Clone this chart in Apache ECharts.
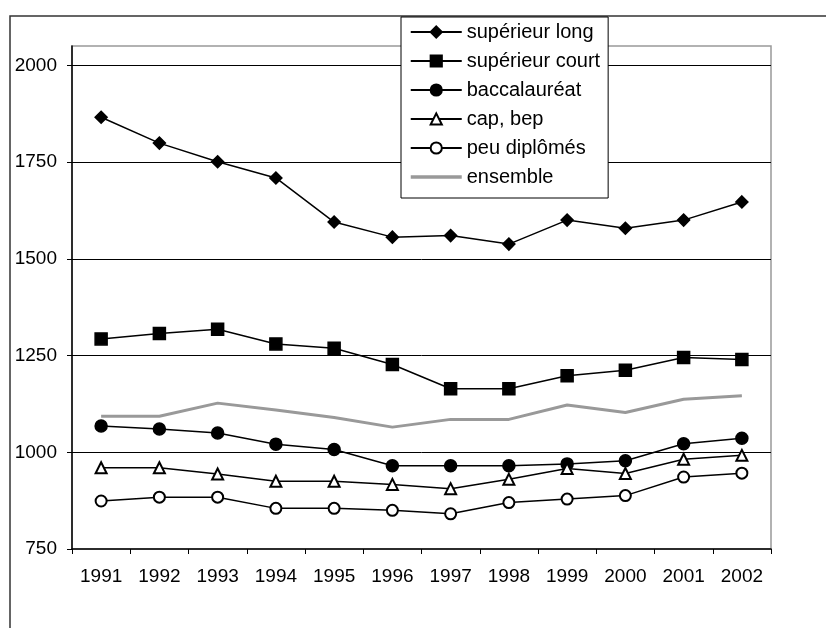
<!DOCTYPE html>
<html>
<head>
<meta charset="utf-8">
<script src="https://cdn.jsdelivr.net/npm/echarts@6/dist/echarts.min.js"></script>
<style>
  html, body { margin: 0; padding: 0; background: #fff; }
  #chart { width: 826px; height: 628px; }
</style>
</head>
<body>
<div id="chart"></div>
<script>
// Years on the category axis
const years = ['1991', '1992', '1993', '1994', '1995', '1996', '1997', '1998', '1999', '2000', '2001', '2002'];

// Values per diploma level
const superieurLong = [1866, 1799, 1751, 1709, 1595, 1556, 1560, 1538, 1600, 1579, 1600, 1647];
const superieurCourt = [1293, 1307, 1318, 1280, 1269, 1227, 1164, 1164, 1198, 1212, 1245, 1240];
const baccalaureat = [1068, 1060, 1050, 1021, 1007, 965, 965, 965, 970, 978, 1022, 1036];
const capBep = [960, 960, 944, 925, 925, 917, 906, 930, 958, 945, 982, 992];
const peuDiplomes = [874, 884, 884, 855, 855, 850, 841, 870, 879, 888, 936, 946];
const ensemble = [1093, 1093, 1127, 1109, 1090, 1065, 1085, 1085, 1122, 1103, 1137, 1146];

// Value axis tick labels
const yTicks = [750, 1000, 1250, 1500, 1750, 2000];

const FONT = 'Arial, "Liberation Sans", sans-serif';

function blackSeries(name, data, symbol, size) {
  return {
    name: name,
    type: 'line',
    data: data,
    symbol: symbol,
    symbolSize: size,
    showSymbol: true,
    lineStyle: { color: '#000', width: 1.5 },
    itemStyle: { color: '#000', borderColor: '#000', borderWidth: 1.5 },
    emphasis: { disabled: true },
    animation: false
  };
}

const chart = echarts.init(document.getElementById('chart'), null, { renderer: 'canvas' });

chart.setOption({
  backgroundColor: '#fff',
  animation: false,
  graphic: [{
    type: 'rect',
    silent: true,
    z: 0,
    shape: { x: 10, y: 16, width: 1000, height: 1000 },
    style: { fill: 'none', stroke: '#333', lineWidth: 1.5 }
  }],
  grid: {
    left: 72, top: 46, right: 55, bottom: 79,
    show: true,
    borderColor: '#999',
    borderWidth: 1.5,
    backgroundColor: 'transparent'
  },
  legend: {
    orient: 'vertical',
    left: 401, top: 17,
    padding: [5, 8, 11, 8],
    itemWidth: 51,
    itemHeight: 14,
    itemGap: 9,
    backgroundColor: '#fff',
    borderColor: '#000',
    borderWidth: 1,
    textStyle: { fontFamily: FONT, fontSize: 20, color: '#000', lineHeight: 20, padding: [0, 0, 0, 0] },
    data: [
      'supérieur long', 'supérieur court', 'baccalauréat', 'cap, bep', 'peu diplômés',
      { name: 'ensemble', itemStyle: { opacity: 0 }, lineStyle: { color: '#999', width: 3.5 } }
    ],
    selectedMode: false
  },
  xAxis: {
    type: 'category',
    data: years,
    boundaryGap: true,
    axisLine: { lineStyle: { color: '#000', width: 1.5 } },
    axisTick: { show: true, interval: 0, length: 5, alignWithLabel: false, lineStyle: { color: '#000', width: 1 } },
    axisLabel: { interval: 0, margin: 18, fontFamily: FONT, fontSize: 19, color: '#000' },
    splitLine: { show: false }
  },
  yAxis: {
    type: 'value',
    min: 750,
    max: 2050,
    interval: 250,
    axisLine: { show: true, lineStyle: { color: '#000', width: 1.5 } },
    axisTick: { show: true, length: 5, customValues: yTicks, lineStyle: { color: '#000', width: 1 } },
    axisLabel: {
      margin: 15, customValues: yTicks, fontFamily: FONT, fontSize: 19, color: '#000',
      formatter: function (v) { return String(v); }
    },
    splitLine: { show: true, showMinLine: false, lineStyle: { color: '#000', width: 1 } }
  },
  series: [
    blackSeries('supérieur long', superieurLong, 'diamond', 12),
    blackSeries('supérieur court', superieurCourt, 'rect', 12),
    {
      name: 'ensemble',
      type: 'line',
      data: ensemble,
      symbol: 'none',
      lineStyle: { color: '#999', width: 3 },
      itemStyle: { color: '#999' },
      emphasis: { disabled: true },
      animation: false
    },
    blackSeries('baccalauréat', baccalaureat, 'circle', 12),
    blackSeries('cap, bep', capBep, 'emptyTriangle', 11),
    blackSeries('peu diplômés', peuDiplomes, 'emptyCircle', 11)
  ]
});
</script>
</body>
</html>
